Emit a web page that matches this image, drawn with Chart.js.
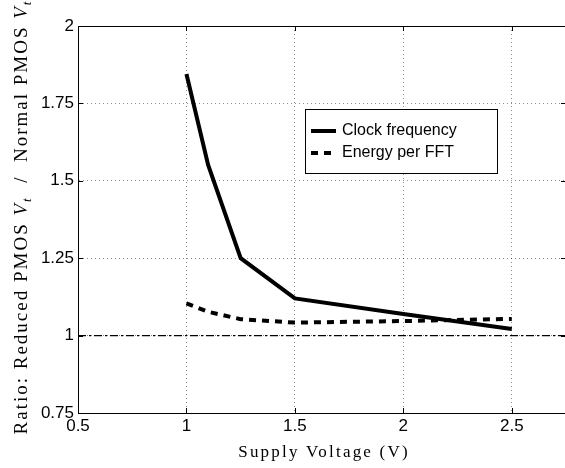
<!DOCTYPE html>
<html>
<head>
<meta charset="utf-8">
<script src="https://cdn.jsdelivr.net/npm/chart.js@4/dist/chart.umd.min.js"></script>
<style>
html,body{margin:0;padding:0;background:#fff;overflow:hidden;}
canvas{display:block;}
</style>
</head>
<body>
<canvas id="c" width="570" height="468"></canvas>
<script>
// ---- data ----
const voltages = [1.0, 1.1, 1.25, 1.5, 2.0, 2.5];
const clockFrequency = [1.845, 1.551, 1.250, 1.120, 1.070, 1.021];
const energyPerFFT = [1.104, 1.077, 1.053, 1.042, 1.047, 1.054];
const refX = [0.5, 2.75];
const refY = [1, 1];
const xTicks = [0.5, 1, 1.5, 2, 2.5];
const yTicks = [0.75, 1, 1.25, 1.5, 1.75, 2];
const seriesNames = ['Clock frequency', 'Energy per FFT'];
const xTitle = 'Supply Voltage (V)';

const toPts = (xs, ys) => xs.map((x, i) => ({x: x, y: ys[i]}));

const frame = {
  id: 'frame',
  afterDraw(chart) {
    const ctx = chart.ctx, a = chart.chartArea;
    const xs = chart.scales.x, ys = chart.scales.y;
    ctx.save();
    ctx.strokeStyle = '#000';
    ctx.lineWidth = 1;
    ctx.beginPath();
    ctx.moveTo(a.left, a.top + 0.5); ctx.lineTo(a.right, a.top + 0.5);
    ctx.moveTo(a.right - 0.5, a.top); ctx.lineTo(a.right - 0.5, a.bottom);
    xTicks.forEach(v => {
      const p = Math.round(xs.getPixelForValue(v)) + 0.5;
      ctx.moveTo(p, a.bottom); ctx.lineTo(p, a.bottom - 5);
      ctx.moveTo(p, a.top); ctx.lineTo(p, a.top + 5);
    });
    yTicks.forEach(v => {
      const p = Math.round(ys.getPixelForValue(v)) + 0.5;
      ctx.moveTo(a.left, p); ctx.lineTo(a.left + 5, p);
      ctx.moveTo(a.right, p); ctx.lineTo(a.right - 5, p);
    });
    ctx.stroke();

    // legend
    const lx = 305, ly = 109, lw = 192, lh = 64;
    ctx.fillStyle = '#fff';
    ctx.fillRect(lx, ly, lw, lh);
    ctx.strokeRect(lx + 0.5, ly + 0.5, lw, lh);
    ctx.font = '16px "Liberation Sans", Arial, sans-serif';
    ctx.fillStyle = '#000';
    ctx.textBaseline = 'middle';
    ctx.textAlign = 'left';
    const rows = [ly + 22, ly + 44];
    ctx.lineWidth = 4;
    ctx.beginPath(); ctx.setLineDash([]);
    ctx.moveTo(311, rows[0]); ctx.lineTo(336, rows[0]); ctx.stroke();
    ctx.beginPath(); ctx.setLineDash([7, 6]);
    ctx.moveTo(311, rows[1]); ctx.lineTo(336, rows[1]); ctx.stroke();
    ctx.setLineDash([]);
    ctx.fillText(seriesNames[0], 342, rows[0]);
    ctx.fillText(seriesNames[1], 342, rows[1]);

    // x title
    ctx.font = '17px "Liberation Serif", "DejaVu Serif", serif';
    ctx.letterSpacing = '2.2px';
    ctx.textAlign = 'center';
    ctx.textBaseline = 'alphabetic';
    ctx.fillText(xTitle, 324, 457);

    // y title (rotated, with italic V_t)
    const segs = [
      ['Ratio: Reduced PMOS ', 'n'], ['V', 'i'], ['t', 's'],
      ['  /  Normal PMOS ', 'n'], ['V', 'i'], ['t', 's']
    ];
    const fN = '19px "Liberation Serif", "DejaVu Serif", serif';
    const fI = 'italic 19px "Liberation Serif", "DejaVu Serif", serif';
    const fS = 'italic 13px "Liberation Serif", "DejaVu Serif", serif';
    ctx.letterSpacing = '2px';
    const fontFor = t => t === 'n' ? fN : (t === 'i' ? fI : fS);
    let total = 0;
    segs.forEach(s => { ctx.font = fontFor(s[1]); total += ctx.measureText(s[0]).width; });
    ctx.translate(27, 217);
    ctx.rotate(-Math.PI / 2);
    ctx.textAlign = 'left';
    let x = -total / 2;
    segs.forEach(s => {
      ctx.font = fontFor(s[1]);
      const dy = s[1] === 's' ? 4 : 0;
      ctx.fillText(s[0], x, dy);
      x += ctx.measureText(s[0]).width;
    });
    ctx.restore();
  }
};

new Chart(document.getElementById('c'), {
  type: 'line',
  data: {
    datasets: [
      {label: 'ref', data: toPts(refX, refY), borderColor: '#000', borderWidth: 1.4, borderDash: [8, 3, 2, 3], pointRadius: 0, fill: false},
      {label: seriesNames[0], data: toPts(voltages, clockFrequency), borderColor: '#000', borderWidth: 4, pointRadius: 0, fill: false, tension: 0},
      {label: seriesNames[1], data: toPts(voltages, energyPerFFT), borderColor: '#000', borderWidth: 4, borderDash: [7, 6], pointRadius: 0, fill: false, tension: 0}
    ]
  },
  options: {
    responsive: false,
    animation: false,
    devicePixelRatio: 1,
    layout: {padding: {top: 26, right: 4, left: 0, bottom: 0}},
    plugins: {legend: {display: false}, tooltip: {enabled: false}},
    scales: {
      x: {
        type: 'linear', min: 0.5, max: 2.75,
        afterBuildTicks: s => { s.ticks = xTicks.map(v => ({value: v})); },
        afterFit: s => { s.height = 55; },
        grid: {color: 'rgba(0,0,0,0.45)', drawTicks: false},
        border: {display: true, color: '#000', width: 1, dash: [1, 3]},
        ticks: {color: '#000', padding: 3, maxRotation: 0, font: {family: '"Liberation Sans", Arial, sans-serif', size: 17}, callback: v => String(v)}
      },
      y: {
        type: 'linear', min: 0.75, max: 2,
        afterBuildTicks: s => { s.ticks = yTicks.map(v => ({value: v})); },
        afterFit: s => { s.width = 78; },
        grid: {color: 'rgba(0,0,0,0.45)', drawTicks: false},
        border: {display: true, color: '#000', width: 1, dash: [1, 3]},
        ticks: {color: '#000', padding: 4, font: {family: '"Liberation Sans", Arial, sans-serif', size: 17}, callback: v => String(v)}
      }
    }
  },
  plugins: [frame]
});
</script>
</body>
</html>
